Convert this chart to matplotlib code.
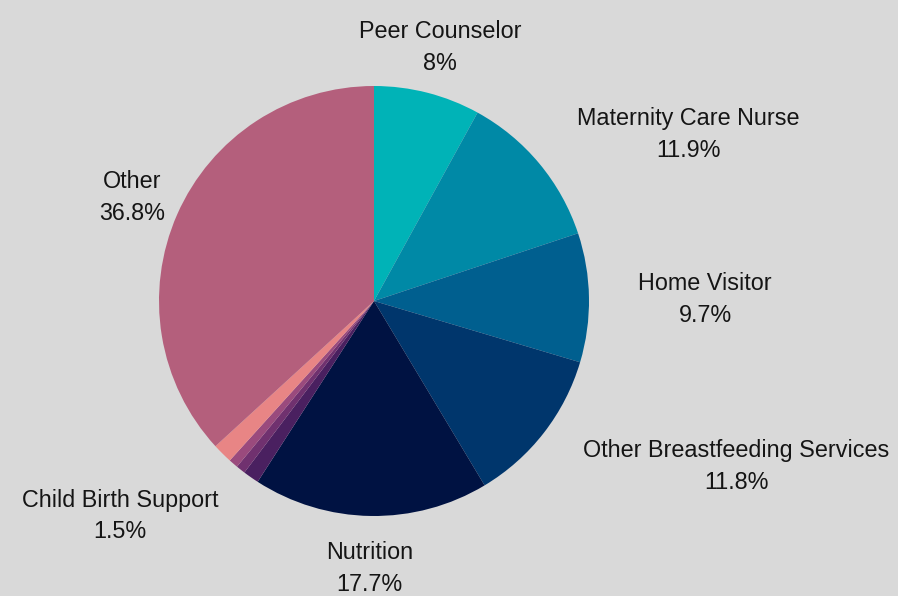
import matplotlib.pyplot as plt

categorias = ['Peer Counselor', 'Maternity Care Nurse', 'Home Visitor',
              'Other Breastfeeding Services', 'Nutrition', '', '', '',
              'Child Birth Support', 'Other']
valores = [8.0, 11.9, 9.7, 11.8, 17.7, 1.2, 0.7, 0.7, 1.5, 36.8]
colores = ['#00b3b7', '#0089a6', '#005f8f', '#00366c', '#001242',
           '#4a2060', '#70316f', '#9a4a7d', '#e88585', '#b45f7c']

plt.rcParams['font.family'] = ['Liberation Sans', 'DejaVu Sans']

fig = plt.figure(figsize=(8.98, 5.96), dpi=100)
fig.patch.set_facecolor('#d9d9d9')
ax = fig.add_axes([0, 0, 1, 1])
ax.set_facecolor('#d9d9d9')

etiquetas = [f'{c}\n{v:g}%' if c else '' for c, v in zip(categorias, valores)]
wedges, textos = ax.pie(valores, labels=etiquetas, colors=colores,
                        startangle=90, counterclock=False,
                        labeldistance=1.23,
                        wedgeprops={'linewidth': 0},
                        textprops={'fontsize': 16.8, 'color': '#151515',
                                   'linespacing': 1.5,
                                   'multialignment': 'center'})

# alinear etiquetas
alineacion = {'Peer Counselor': 'center', 'Nutrition': 'center', 'Other': 'center'}
for t, c in zip(textos, categorias):
    if c in alineacion:
        t.set_ha(alineacion[c])
    t.set_va('center')
    x, y = t.get_position()
    t.set_position((x, y - 0.014))
    if c == 'Child Birth Support':
        t.set_position((-1.18, -1.0))
        t.set_ha('center')

ax.set_xlim(-374 / 215, 524 / 215)
ax.set_ylim(-295 / 215, 301 / 215)
ax.axis('off')

plt.savefig('out.png', dpi=100, facecolor=fig.get_facecolor())
